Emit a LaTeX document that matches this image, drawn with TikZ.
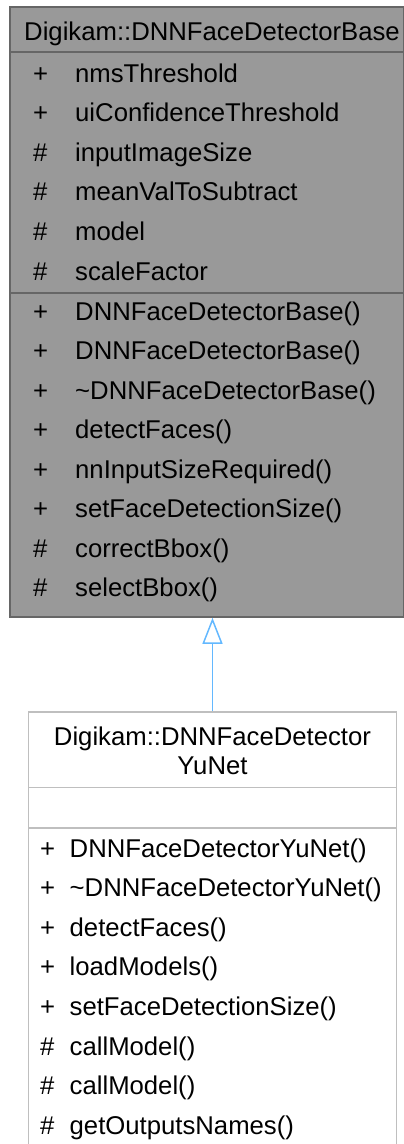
\documentclass[tikz,border=0pt]{standalone}
\usepackage{fontspec}
\setmainfont{Liberation Sans}
\usetikzlibrary{arrows.meta}
\definecolor{basefill}{HTML}{999999}
\definecolor{basedraw}{HTML}{666666}
\definecolor{derdraw}{HTML}{BFBFBF}
\definecolor{edgecol}{HTML}{63B8FF}
\begin{document}
\begin{tikzpicture}[x=1pt,y=-1pt,
  txt/.style={font=\fontsize{25.7}{30}\selectfont, inner sep=0pt, anchor=base west, text=black},
  ctxt/.style={txt, anchor=base},
  basebox/.style={draw=basedraw, fill=basefill, line width=1.6pt, inner sep=0pt},
  derbox/.style={draw=derdraw, fill=white, line width=1.6pt, inner sep=0pt},
  basesep/.style={draw=basedraw, line width=1.6pt},
  dersep/.style={draw=derdraw, line width=1.6pt},
  edge/.style={draw=edgecol, line width=1.5pt, -{Triangle[open, length=26pt, width=20pt]}}
]
\clip (0,0) rectangle (404,1144);
% base class box
\node[basebox, minimum width=393.5pt, minimum height=610pt] (base) at (206.75,312) {};
\draw[basesep] (10,52) -- (403.5,52);
\draw[basesep] (10,293) -- (403.5,293);
\node[txt] (btitle) at (24,40.7) {Digikam::DNNFaceDetectorBase};
% attributes
\foreach \v/\n [count=\i from 0] in {+/nmsThreshold, +/uiConfidenceThreshold, \#/inputImageSize, \#/meanValToSubtract, \#/model, \#/scaleFactor}{
  \node[txt] (bav\i) at (33,82+39.6*\i) {\v};
  \node[txt] (ban\i) at (75,82+39.6*\i) {\n};
}
% methods
\foreach \v/\n [count=\i from 0] in {+/DNNFaceDetectorBase(), +/DNNFaceDetectorBase(), +/\textasciitilde DNNFaceDetectorBase(), +/detectFaces(), +/nnInputSizeRequired(), +/setFaceDetectionSize(), \#/correctBbox(), \#/selectBbox()}{
  \node[txt] (bmv\i) at (33,320+39.5*\i) {\v};
  \node[txt] (bmn\i) at (75,320+39.5*\i) {\n};
}
% derived class box
\node[derbox, minimum width=368pt, minimum height=438pt] (der) at (212.5,931) {};
\draw[dersep] (28.5,787.3) -- (396.5,787.3);
\draw[dersep] (28.5,827.7) -- (396.5,827.7);
\node[ctxt] (dt1) at (212.5,745.7) {Digikam::DNNFaceDetector};
\node[ctxt] (dt2) at (212.5,774) {YuNet};
\foreach \v/\n [count=\i from 0] in {+/DNNFaceDetectorYuNet(), +/\textasciitilde DNNFaceDetectorYuNet(), +/detectFaces(), +/loadModels(), +/setFaceDetectionSize(), \#/callModel(), \#/callModel(), \#/getOutputsNames()}{
  \node[txt] (dmv\i) at (40,857+39.6*\i) {\v};
  \node[txt] (dmn\i) at (69.5,857+39.6*\i) {\n};
}
% inheritance edge
\draw[edge] (der.north) -- (der.north |- base.south);
\end{tikzpicture}
\end{document}
